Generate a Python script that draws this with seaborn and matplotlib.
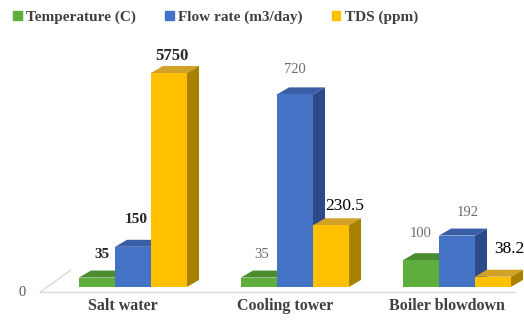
import matplotlib
matplotlib.use("Agg")
import matplotlib.pyplot as plt
import matplotlib.transforms as mtransforms
from matplotlib.patches import Polygon
import seaborn as sns
import pandas as pd

# data (axis tops out at 800, so the 5750 bar is cut)
sites = ["Salt water", "Cooling tower", "Boiler blowdown"]
params = ["Temperature (C)", "Flow rate (m3/day)", "TDS (ppm)"]
temperature = [35, 35, 100]
flow_rate = [150, 720, 192]
tds = [5750, 230.5, 38.2]
value_text = [["35", "35", "100"], ["150", "720", "192"], ["5750", "230.5", "38.2"]]

front_colors = ["#5DAE3C", "#4472C4", "#FFC000"]
top_colors = ["#4C8C31", "#3A5EA6", "#D2A127"]
side_colors = ["#3E7428", "#2C4A88", "#A98100"]

# label nudges in pixels (x, y above the front top)
label_nudge = [[(5, 23), (3, 23), (0, 27)],
               [(3, 27), (0, 25), (11, 23)],
               [(3, 17), (14, 19), (16, 28)]]

df = pd.DataFrame({
    "site": sites * 3,
    "param": [p for p in params for _ in sites],
    "value": temperature + flow_rate + tds,
})

sns.set_theme(style="white")
plt.rcParams["font.family"] = ["Liberation Serif", "DejaVu Serif"]

fig = plt.figure(figsize=(5.24, 3.23), dpi=100)
W, H = 524, 323
ax = fig.add_axes([40 / W, 31 / H, 475 / W, 219 / H])

sns.barplot(data=df, x="site", y="value", hue="param", order=sites, hue_order=params,
            palette=front_colors, saturation=1, width=0.667, errorbar=None,
            linewidth=0, ax=ax)

ymax = 800
ax.set_ylim(-19, ymax)
ax.set_xlim(-0.574, 2.358)

# 3D depth offset, in pixels -> data units
inv = ax.transData.inverted()
p0 = inv.transform(ax.transData.transform((0, 0)))
p1 = inv.transform(ax.transData.transform((0, 0)) + [12, 7])
dx, dy = p1 - p0

for s, cont in enumerate(ax.containers):
    for c, bar in enumerate(cont):
        bar.set_zorder(3)
        x0 = bar.get_x()
        x1 = x0 + bar.get_width()
        h = min(bar.get_height(), ymax)
        top = Polygon([(x0, h), (x1, h), (x1 + dx, h + dy), (x0 + dx, h + dy)],
                      closed=True, facecolor=top_colors[s], edgecolor="none",
                      zorder=2, clip_on=False)
        side = Polygon([(x1, 0), (x1 + dx, dy), (x1 + dx, h + dy), (x1, h)],
                       closed=True, facecolor=side_colors[s], edgecolor="none",
                       zorder=2, clip_on=False)
        ax.add_patch(top)
        ax.add_patch(side)

        if s == 2:
            kw = dict(color="black", fontsize=12.5)
            if c == 0:
                kw["fontweight"] = "bold"
                kw["color"] = "#262626"
                kw["fontsize"] = 12
        elif c == 0:
            kw = dict(color="#262626", fontsize=11, fontweight="bold")
        else:
            kw = dict(color="#6b6b6b", fontsize=10.5)
        ax.annotate(value_text[s][c], xy=((x0 + x1) / 2, h), xytext=label_nudge[s][c],
                    textcoords="offset pixels", ha="center", va="center",
                    annotation_clip=False, **kw)

# floor edges
ax.plot([-0.574, 2.358], [-19, -19], color="#d9d9d9", lw=1, clip_on=False, zorder=1)
ax.plot([-0.574, -0.574 + 31 / 162], [-19, -19 + 22 / 0.2675], color="#d9d9d9",
        lw=1, clip_on=False, zorder=1)
fig.text(22 / W, 1 - 293 / H, "0", color="#595959", fontsize=10.5,
         ha="center", va="center")

for sp in ax.spines.values():
    sp.set_visible(False)
ax.set_yticks([])
ax.set_xlabel("")
ax.set_ylabel("")
ax.tick_params(axis="x", length=0, pad=4)
shift = mtransforms.ScaledTranslation(-10 / 100, 0, fig.dpi_scale_trans)
for lbl in ax.get_xticklabels():
    lbl.set_fontweight("bold")
    lbl.set_fontsize(11.5)
    lbl.set_color("#404040")
    lbl.set_transform(lbl.get_transform() + shift)

ax.get_legend().remove()
handles = [plt.Rectangle((0, 0), 1, 1, color=col) for col in front_colors]
fig.legend(handles, params, loc="upper left", bbox_to_anchor=(0.005, 1.0), ncol=3,
           frameon=False, handlelength=0.55, handleheight=0.55, handletextpad=0.3,
           columnspacing=1.9, prop={"weight": "bold", "size": 11},
           labelcolor="#404040", borderaxespad=0.3)

fig.savefig("out.png", dpi=100)
